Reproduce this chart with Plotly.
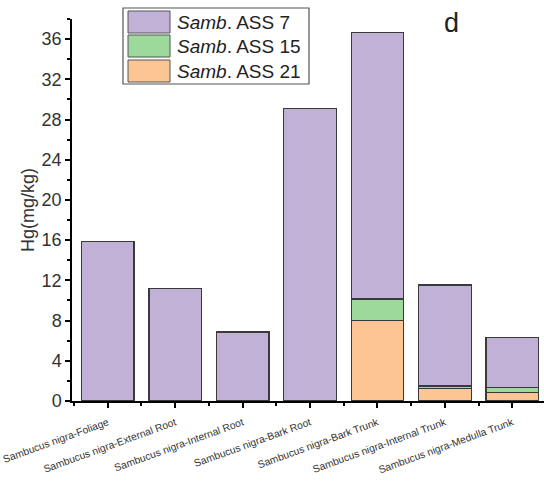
import plotly.graph_objects as go

# Hg concentration by plant part, stacked by sampling site
categories = [
    "Sambucus nigra-Foliage",
    "Sambucus nigra-External Root",
    "Sambucus nigra-Internal Root",
    "Sambucus nigra-Bark Root",
    "Sambucus nigra-Bark Trunk",
    "Sambucus nigra-Internal Trunk",
    "Sambucus nigra-Medulla Trunk",
]
ass21 = [None, None, None, None, 8.0, 1.22, 0.87]
ass15 = [None, None, None, None, 2.15, 0.27, 0.5]
ass7 = [15.9, 11.2, 6.85, 29.1, 26.5, 10.05, 4.95]

series_names = ["Samb. ASS 7", "Samb. ASS 15", "Samb. ASS 21"]
colors = {"ass7": "#C1B1D7", "ass15": "#9CD99B", "ass21": "#FBC594"}

x = list(range(1, len(categories) + 1))

fig = go.Figure()
for vals, key, name in [(ass21, "ass21", series_names[2]),
                        (ass15, "ass15", series_names[1]),
                        (ass7, "ass7", series_names[0])]:
    fig.add_trace(go.Bar(
        x=x, y=vals, name=name, width=0.78,
        marker=dict(color=colors[key], line=dict(color="#3a3a3a", width=1.3)),
        showlegend=False,
    ))

fig.update_layout(
    barmode="stack",
    width=544, height=488,
    margin=dict(l=72, r=0, t=19, b=87),
    plot_bgcolor="white", paper_bgcolor="white",
    font=dict(family="Liberation Sans, Arial, sans-serif", color="#333"),
)

fig.update_xaxes(
    range=[0.47, 7.47],
    tickmode="array", tickvals=x, ticktext=categories,
    tickangle=-20, tickfont=dict(size=10.3, color="#333"),
    ticklabelstandoff=5, ticklabeloverflow="allow",
    showline=True, linecolor="black", linewidth=1.5,
    ticks="outside", ticklen=5, tickwidth=1.5, tickcolor="black",
    minor=dict(tickvals=[i + 0.5 for i in range(0, 8)], ticks="outside",
               ticklen=3, tickwidth=1.5, tickcolor="black"),
    showgrid=False, zeroline=False,
)
fig.update_yaxes(
    range=[0, 38],
    tickmode="linear", tick0=0, dtick=4,
    tickfont=dict(size=18, color="#333"),
    showline=True, linecolor="black", linewidth=1.5,
    ticks="outside", ticklen=5, tickwidth=1.5, tickcolor="black",
    minor=dict(dtick=2, ticks="outside", ticklen=3, tickwidth=1.5, tickcolor="black"),
    showgrid=False, zeroline=False,
    title=dict(text="Hg(mg/kg)", font=dict(size=18, color="#333"), standoff=2),
)

# Legend box with large swatches
W, H = 544, 488
def px(xp):
    return (xp - 72) / (W - 72)
def py(yp):
    return (H - 87 - yp) / (H - 19 - 87)

shapes = [dict(type="rect", xref="paper", yref="paper",
               x0=px(123), x1=px(309), y0=py(84), y1=py(8),
               line=dict(color="#555", width=1.2), fillcolor="white")]
rows = [(11, 33, colors["ass7"], "ASS 7"),
        (35, 57, colors["ass15"], "ASS 15"),
        (60, 82, colors["ass21"], "ASS 21")]
annotations = []
for y0, y1, col, label in rows:
    shapes.append(dict(type="rect", xref="paper", yref="paper",
                       x0=px(128), x1=px(170), y0=py(y1), y1=py(y0),
                       line=dict(color="#555", width=1), fillcolor=col))
    annotations.append(dict(xref="paper", yref="paper", x=px(175), y=py((y0 + y1) / 2),
                            text="<i>Samb</i>. " + label, showarrow=False,
                            xanchor="left", yanchor="middle",
                            font=dict(size=19, color="#222")))
annotations.append(dict(xref="paper", yref="paper", x=px(451), y=py(23),
                        text="d", showarrow=False, xanchor="center", yanchor="middle",
                        font=dict(size=27, color="#222")))
fig.update_layout(shapes=shapes, annotations=annotations)

fig.write_html("out.html")
